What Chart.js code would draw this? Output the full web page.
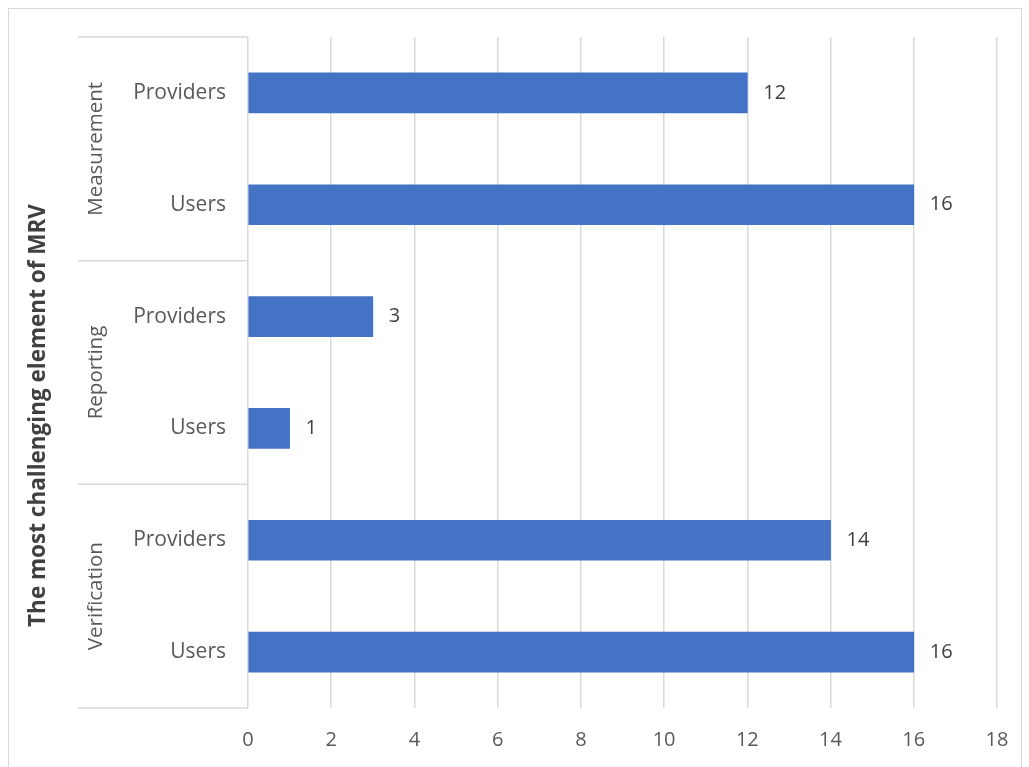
<!DOCTYPE html>
<html lang="en">
  <head>
    <meta charset="UTF-8" />
    <title>The most challenging element of MRV</title>
    <script src="https://cdn.jsdelivr.net/npm/chart.js"></script>
    <style>
      body {
        margin: 0;
        background: #ffffff;
      }
      .wrap {
        position: relative;
        width: 1029px;
        height: 767px;
      }
      .frame {
        position: absolute;
        left: 8px;
        top: 8px;
        width: 1012px;
        height: 780px;
        border: 1.5px solid #d9d9d9;
        pointer-events: none;
      }
    </style>
  </head>
  <body>
    <div class="wrap">
      <canvas id="mrvChart" width="1029" height="767"></canvas>
      <div class="frame"></div>
    </div>

    <script>
      // data
      const groups = ["Measurement", "Reporting", "Verification"];
      const roles = ["Providers", "Users"];
      const labels = ["Providers", "Users", "Providers", "Users", "Providers", "Users"];
      const values = [12, 16, 3, 1, 14, 16];
      const axisTitle = "The most challenging element of MRV";

      const FONT = "'Open Sans', sans-serif";

      // group names, separators, value labels, axis title
      const groupPlugin = {
        id: "groupLabels",
        afterDraw(chart) {
          const ctx = chart.ctx;
          const y = chart.scales.y;
          const area = chart.chartArea;
          const step = y.getPixelForValue(1) - y.getPixelForValue(0);

          ctx.save();
          ctx.strokeStyle = "#d9d9d9";
          ctx.lineWidth = 1.5;
          for (let g = 0; g <= groups.length; g++) {
            const py = y.getPixelForValue(g * roles.length) - step / 2;
            ctx.beginPath();
            ctx.moveTo(78, py);
            ctx.lineTo(area.left, py);
            ctx.stroke();
          }

          ctx.fillStyle = "#595959";
          ctx.font = "20.5px " + FONT;
          ctx.textAlign = "center";
          ctx.textBaseline = "middle";
          groups.forEach((name, g) => {
            const a = y.getPixelForValue(g * roles.length);
            const b = y.getPixelForValue(g * roles.length + roles.length - 1);
            ctx.save();
            ctx.translate(96, (a + b) / 2);
            ctx.rotate(-Math.PI / 2);
            ctx.fillText(name, 0, 0);
            ctx.restore();
          });

          ctx.fillStyle = "#404040";
          ctx.font = "bold 22.5px " + FONT;
          ctx.save();
          ctx.translate(39, (area.top + area.bottom) / 2 + 43);
          ctx.rotate(-Math.PI / 2);
          ctx.fillText(axisTitle, 0, 0);
          ctx.restore();

          // value labels
          const meta = chart.getDatasetMeta(0);
          ctx.fillStyle = "#404040";
          ctx.font = "20px " + FONT;
          ctx.textAlign = "left";
          meta.data.forEach((bar, i) => {
            ctx.fillText(String(values[i]), bar.x + 16, bar.y);
          });
          ctx.restore();
        },
      };

      new Chart(document.getElementById("mrvChart").getContext("2d"), {
        type: "bar",
        data: {
          labels: labels,
          datasets: [
            {
              data: values,
              backgroundColor: "#4472c4",
              barThickness: 40,
            },
          ],
        },
        options: {
          indexAxis: "y",
          responsive: false,
          animation: false,
          layout: {
            padding: { top: 37, right: 32, left: 0, bottom: 0 },
          },
          plugins: {
            legend: { display: false },
            tooltip: { enabled: false },
          },
          scales: {
            x: {
              min: 0,
              max: 18,
              ticks: {
                stepSize: 2,
                color: "#595959",
                font: { family: FONT, size: 20 },
                padding: 20,
              },
              grid: {
                color: "#d9d9d9",
                lineWidth: 1.5,
                drawTicks: false,
              },
              border: { display: false },
              afterFit(s) {
                s.height = 59;
              },
            },
            y: {
              ticks: {
                color: "#595959",
                font: { family: FONT, size: 21 },
                padding: 14,
              },
              grid: { display: false },
              border: { display: false },
              afterFit(s) {
                s.width = 248;
              },
            },
          },
        },
        plugins: [groupPlugin],
      });
    </script>
  </body>
</html>
